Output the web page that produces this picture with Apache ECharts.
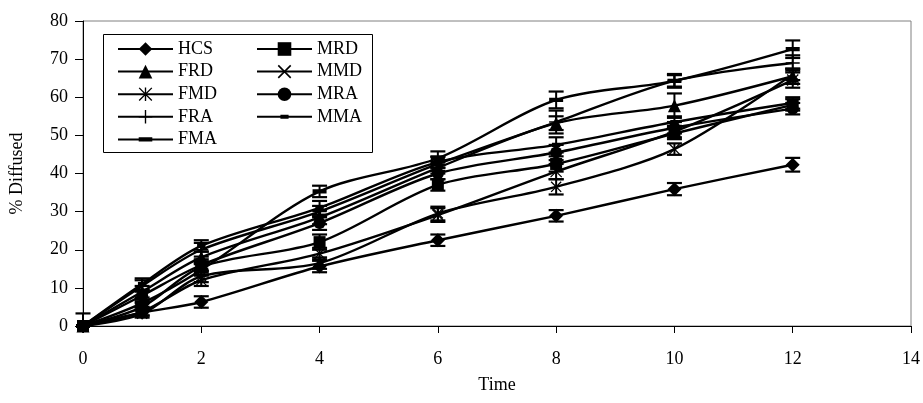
<!DOCTYPE html>
<html>
<head>
<meta charset="utf-8">
<script src="https://cdn.jsdelivr.net/npm/echarts@6.0.0/dist/echarts.min.js"></script>
<style>html,body{margin:0;padding:0;background:#fff}#c{width:923px;height:403px}</style>
</head>
<body>
<div id="c"></div>
<script>
const times = [0, 1, 2, 4, 6, 8, 10, 12];
const xTicks = [0, 2, 4, 6, 8, 10, 12, 14];
const yTicks = [0, 10, 20, 30, 40, 50, 60, 70, 80];
const seriesNames = ['HCS', 'FRD', 'FMD', 'FRA', 'FMA', 'MRD', 'MMD', 'MRA', 'MMA'];

const HCS = [0, 3.5, 6.3, 15.6, 22.5, 28.9, 35.9, 42.3];
const FRD = [0, 9, 18, 28.5, 41.5, 53.2, 57.8, 65.5];
const FMD = [0, 3.8, 12, 19, 29.1, 40.5, 51, 64.5];
const FRA = [0, 10.5, 20, 30, 42.5, 53.5, 64.3, 69];
const FMA = [0, 6, 14.7, 35.3, 44, 59.3, 64.3, 72.6];
const MRD = [0, 5, 15.5, 22, 37, 42.5, 50.5, 58];
const MMD = [0, 3.2, 13, 16.5, 29.5, 36.5, 46.4, 66];
const MRA = [0, 8, 16, 27, 40, 45.5, 52, 57];
const MMA = [0, 11, 21, 31, 43, 47.5, 53.5, 58.5];

const HCS_err = [0, 0.8, 1.5, 1.5, 1.5, 1.5, 1.6, 1.8];
const FRD_err = [0, 1.5, 1.5, 1.8, 1.5, 1.8, 3.2, 2];
const FMD_err = [0, 1, 1.5, 1.5, 1.8, 2, 1.5, 2];
const FRA_err = [3.3, 1.5, 1.8, 1.5, 1.8, 3, 1.5, 2];
const FMA_err = [0, 1, 1.5, 1.5, 1.8, 2.2, 1.8, 2.3];
const MRD_err = [0, 1, 1.5, 2, 1.5, 2, 1.5, 1.5];
const MMD_err = [0, 1, 1.5, 1.5, 1.8, 2, 1.5, 1.5];
const MRA_err = [0, 1.5, 1.5, 1.8, 1.5, 2, 1.5, 1.5];
const MMA_err = [0, 1.5, 1.5, 1.8, 1.5, 2, 1.5, 1.5];

const values = {HCS, FRD, FMD, FRA, FMA, MRD, MMD, MRA, MMA};
const errs = {HCS: HCS_err, FRD: FRD_err, FMD: FMD_err, FRA: FRA_err, FMA: FMA_err,
              MRD: MRD_err, MMD: MMD_err, MRA: MRA_err, MMA: MMA_err};

const CORNERS = 'M0 0 L0.05 0 L0 0.05 Z M20 20 L19.95 20 L20 19.95 Z ';
const ASTER = 'path://M9 0 L11 0 L11 20 L9 20 Z M0 1.4 L1.4 0 L20 18.6 L18.6 20 Z M18.6 0 L20 1.4 L1.4 20 L0 18.6 Z';
const CROSS = 'path://M0 1.7 L1.7 0 L20 18.3 L18.3 20 Z M18.3 0 L20 1.7 L1.7 20 L0 18.3 Z';
const PLUS = 'path://M9 0 L11 0 L11 20 L9 20 Z M0 9 L20 9 L20 11 L0 11 Z';
const DASH = 'path://' + CORNERS + 'M0 7 L20 7 L20 13 L0 13 Z';
const SDASH = 'path://' + CORNERS + 'M4 7 L16 7 L16 13 L4 13 Z';
const markers = {
  HCS: ['diamond', 14], FRD: ['triangle', 13], FMD: [ASTER, 12], FRA: [PLUS, 14],
  FMA: [DASH, 14], MRD: ['rect', 12], MMD: [CROSS, 11], MRA: ['circle', 12],
  MMA: [SDASH, 14]
};

const FONT = 'Liberation Serif';

function errRender(params, api) {
  const x = api.value(0), y = api.value(1), e = api.value(2);
  if (!e) return null;
  const lo = Math.max(0, y - e);
  const top = api.coord([x, y + e]);
  const bot = api.coord([x, lo]);
  const w = 7.5;
  const ch = [
    {type: 'line', shape: {x1: top[0], y1: top[1], x2: bot[0], y2: bot[1]}, style: {stroke: '#000', lineWidth: 2}},
    {type: 'line', shape: {x1: top[0] - w, y1: top[1], x2: top[0] + w, y2: top[1]}, style: {stroke: '#000', lineWidth: 2.2}}
  ];
  if (y - e >= 0) {
    ch.push({type: 'line', shape: {x1: bot[0] - w, y1: bot[1], x2: bot[0] + w, y2: bot[1]}, style: {stroke: '#000', lineWidth: 2.2}});
  }
  return {type: 'group', children: ch};
}

const series = [];
seriesNames.forEach(function (n) {
  series.push({
    name: n + ' err', type: 'custom', renderItem: errRender, z: 2,
    data: times.map(function (t, i) { return [t, values[n][i], errs[n][i]]; }),
    silent: true
  });
});
seriesNames.forEach(function (n) {
  series.push({
    name: n, type: 'line', smooth: 0.3, z: 3,
    data: times.map(function (t, i) { return [t, values[n][i]]; }),
    symbol: markers[n][0], symbolSize: markers[n][1], showAllSymbol: true,
    lineStyle: {color: '#000', width: 2.4},
    itemStyle: {color: '#000', borderWidth: 0}
  });
});

const legendCommon = {
  orient: 'vertical', padding: 0, itemWidth: 55, itemHeight: 17, itemGap: 4.6,
  textStyle: {fontFamily: FONT, fontSize: 18, color: '#000', lineHeight: 17},
  selectedMode: false
};

const chart = echarts.init(document.getElementById('c'), null, {renderer: 'canvas'});
chart.setOption({
  animation: false,
  backgroundColor: '#fff',
  grid: {left: 82, right: 12, top: 21, bottom: 77, show: true, borderColor: '#808080', borderWidth: 1},
  xAxis: {
    type: 'value', min: xTicks[0], max: xTicks[xTicks.length - 1], interval: 2,
    name: 'Time', nameLocation: 'middle', nameGap: 50,
    nameTextStyle: {fontFamily: FONT, fontSize: 18, color: '#000'},
    axisLine: {show: true, onZero: false, lineStyle: {color: '#000', width: 1}},
    axisTick: {show: true, inside: false, length: 7, lineStyle: {color: '#000'}},
    axisLabel: {fontFamily: FONT, fontSize: 18, color: '#000', margin: 24},
    splitLine: {show: false}
  },
  yAxis: {
    type: 'value', min: yTicks[0], max: yTicks[yTicks.length - 1], interval: 10,
    name: '% Diffused', nameLocation: 'middle', nameGap: 57, nameRotate: 90,
    nameTextStyle: {fontFamily: FONT, fontSize: 18, color: '#000'},
    axisLine: {show: true, lineStyle: {color: '#000', width: 1}},
    axisTick: {show: true, inside: false, length: 8, lineStyle: {color: '#000'}},
    axisLabel: {fontFamily: FONT, fontSize: 18, color: '#000', margin: 15},
    splitLine: {show: false}
  },
  legend: [
    Object.assign({left: 117, top: 40, data: seriesNames.slice(0, 5)}, legendCommon),
    Object.assign({left: 256, top: 40, data: seriesNames.slice(5)}, legendCommon)
  ],
  graphic: [{
    type: 'rect', left: 103, top: 34, z: 10, silent: true,
    shape: {width: 269, height: 118},
    style: {fill: 'rgba(0,0,0,0)', stroke: '#000', lineWidth: 1}
  }],
  series: series
});
</script>
</body>
</html>
